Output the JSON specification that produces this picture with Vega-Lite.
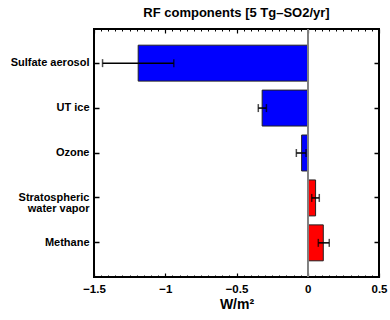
{
  "$schema": "https://vega.github.io/schema/vega-lite/v6.json",
  "autosize": "none",
  "width": 285,
  "height": 248,
  "padding": {"left": 94, "top": 29, "right": 11, "bottom": 43},
  "background": "white",
  "config": {
    "font": "Liberation Sans",
    "view": {"stroke": "black", "strokeWidth": 2},
    "axis": {"domain": false, "grid": false, "labelFont": "Liberation Sans", "labelFontWeight": "bold", "labelColor": "black", "tickColor": "black", "titleColor": "black", "titleFont": "Liberation Sans", "titleFontWeight": "bold"}
  },
  "title": {"text": "RF components [5 Tg\u2013SO2/yr]", "font": "Liberation Sans", "fontSize": 13, "fontWeight": "bold", "color": "black", "offset": 8},
  "data": {"values": [
    {"component": "Sulfate aerosol", "rf": -1.19, "lo": -1.44, "hi": -0.94, "sign": "neg"},
    {"component": "UT ice", "rf": -0.32, "lo": -0.347, "hi": -0.29, "sign": "neg"},
    {"component": "Ozone", "rf": -0.043, "lo": -0.08, "hi": -0.012, "sign": "neg"},
    {"component": "Stratospheric water vapor", "rf": 0.055, "lo": 0.028, "hi": 0.081, "sign": "pos"},
    {"component": "Methane", "rf": 0.109, "lo": 0.074, "hi": 0.151, "sign": "pos"}
  ]},
  "resolve": {"axis": {"x": "independent", "y": "independent"}},
  "layer": [
    {
      "mark": {"type": "bar", "stroke": "#222222", "strokeWidth": 1},
      "encoding": {
        "y": {"field": "component", "type": "nominal", "sort": null,
              "scale": {"paddingInner": 0.2, "paddingOuter": 0.36},
              "axis": {"orient": "left", "title": null, "ticks": false, "labelFontSize": 11, "labelPadding": 5, "labelLineHeight": 11,
                       "labelExpr": "datum.value == 'Stratospheric water vapor' ? ['Stratospheric', 'water vapor'] : datum.value"}},
        "x": {"field": "rf", "type": "quantitative",
              "scale": {"domain": [-1.5, 0.5], "nice": false, "zero": false},
              "axis": {"orient": "bottom", "title": "W/m\u00b2", "titleFontSize": 14, "titlePadding": 3, "ticks": false, "labelFontSize": 11.5, "labelPadding": 6,
                       "values": [-1.5, -1, -0.5, 0, 0.5], "format": "~g", "labelExpr": "replace(datum.label, '-', '\u2212')", "labelFlush": false}},
        "x2": {"datum": 0},
        "color": {"field": "sign", "type": "nominal", "scale": {"domain": ["neg", "pos"], "range": ["#0000ff", "#ff0000"]}, "legend": null}
      }
    },
    {
      "mark": {"type": "rule", "color": "black", "strokeWidth": 1.5},
      "encoding": {
        "y": {"field": "component", "type": "nominal", "sort": null,
              "axis": {"orient": "right", "title": null, "labels": false, "tickSize": -5, "tickWidth": 1.5}},
        "x": {"field": "lo", "type": "quantitative",
              "axis": {"orient": "bottom", "title": null, "labels": false, "tickSize": -4, "tickWidth": 1.2, "values": [-1.5, -1, -0.5, 0, 0.5]}},
        "x2": {"field": "hi"}
      }
    },
    {
      "mark": {"type": "tick", "color": "black", "thickness": 1.5, "size": 8},
      "encoding": {
        "y": {"field": "component", "type": "nominal", "sort": null,
              "axis": {"orient": "left", "title": null, "labels": false, "tickSize": -5, "tickWidth": 1.5}},
        "x": {"field": "lo", "type": "quantitative",
              "axis": {"orient": "bottom", "title": null, "labels": false, "tickSize": -2, "tickWidth": 1,
                       "values": [-1.45, -1.4, -1.35, -1.3, -1.25, -1.2, -1.15, -1.1, -1.05, -0.95, -0.9, -0.85, -0.8, -0.75, -0.7, -0.65, -0.6, -0.55, -0.45, -0.4, -0.35, -0.3, -0.25, -0.2, -0.15, -0.1, -0.05, 0.05, 0.1, 0.15, 0.2, 0.25, 0.3, 0.35, 0.4, 0.45]}}
      }
    },
    {
      "mark": {"type": "tick", "color": "black", "thickness": 1.5, "size": 8},
      "encoding": {
        "y": {"field": "component", "type": "nominal", "sort": null, "axis": null},
        "x": {"field": "hi", "type": "quantitative",
              "axis": {"orient": "top", "title": null, "labels": false, "tickSize": -4, "tickWidth": 1.2, "values": [-1.5, -1, -0.5, 0, 0.5]}}
      }
    },
    {
      "mark": {"type": "rule", "color": "#808080", "strokeWidth": 1.5},
      "encoding": {
        "x": {"datum": 0, "type": "quantitative",
              "axis": {"orient": "top", "title": null, "labels": false, "tickSize": -2, "tickWidth": 1,
                       "values": [-1.45, -1.4, -1.35, -1.3, -1.25, -1.2, -1.15, -1.1, -1.05, -0.95, -0.9, -0.85, -0.8, -0.75, -0.7, -0.65, -0.6, -0.55, -0.45, -0.4, -0.35, -0.3, -0.25, -0.2, -0.15, -0.1, -0.05, 0.05, 0.1, 0.15, 0.2, 0.25, 0.3, 0.35, 0.4, 0.45]}}
      }
    }
  ]
}
